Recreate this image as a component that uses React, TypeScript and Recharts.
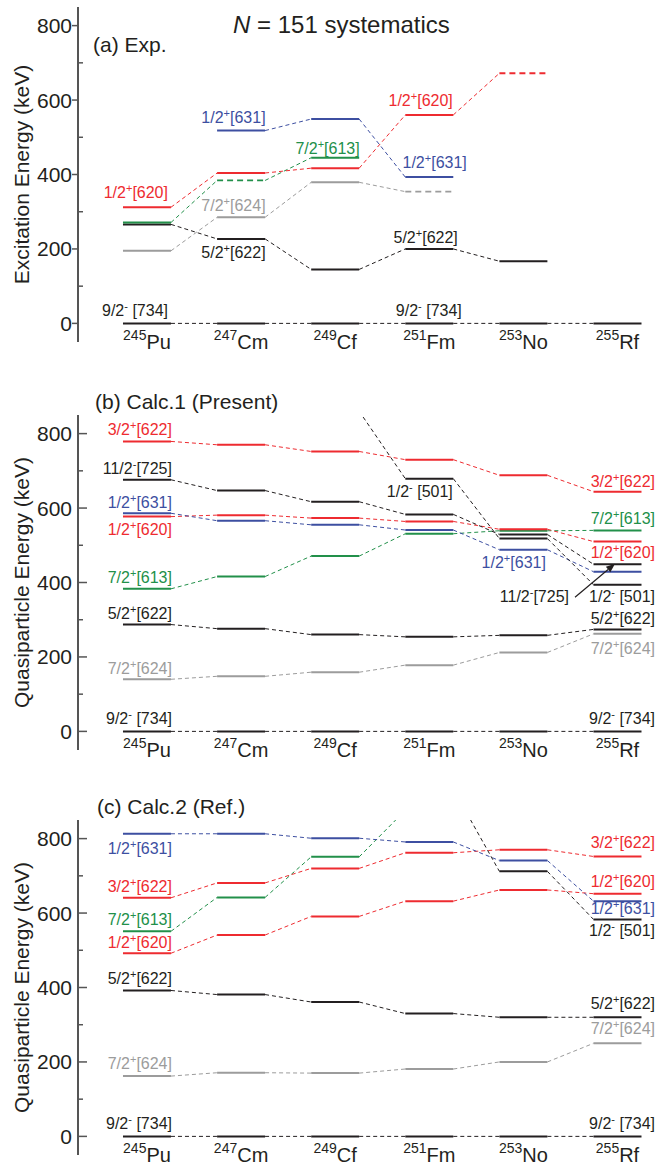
import React from 'react'
import { ComposedChart, Line, Scatter, XAxis, YAxis } from 'recharts'

// nuclei along the x axis
const nucleusMass = ['245', '247', '249', '251', '253', '255']
const nucleusName = ['Pu', 'Cm', 'Cf', 'Fm', 'No', 'Rf']
const nucleusTicks = [0, 1, 2, 3, 4, 5]
const energyTicks = [0, 100, 200, 300, 400, 500, 600, 700, 800]

// (a) Exp. — excitation energies (keV), null = not observed
const expGs734 = [0, 0, 0, 0, 0, 0]
const exp622 = [266, 227, 145, 200, 167, null]
const exp624 = [195, 285, 379, 354, null, null]
const exp613 = [271, 384, 445, null, null, null]
const exp620 = [312, 404, 417, 560, 672, null]
const exp631 = [null, 518, 549, 393, null, null]
// tentative levels (drawn dashed)
const exp624Tentative = [3]
const exp613Tentative = [1]
const exp620Tentative = [4]

// (b) Calc.1 (Present) — quasiparticle energies (keV)
const c1Gs734 = [0, 0, 0, 0, 0, 0]
const c1_624 = [140, 148, 159, 178, 212, 262]
const c1_622 = [287, 276, 260, 254, 258, 274]
const c1_613 = [383, 416, 471, 531, 539, 540]
const c1_620 = [577, 581, 573, 564, 543, 510]
const c1_631 = [586, 566, 555, 541, 488, 429]
const c1_725 = [676, 647, 617, 583, 529, 449]
const c1_3_622 = [779, 770, 752, 730, 688, 644]
const c1_501 = [null, null, 860, 679, 518, 394]

// (c) Calc.2 (Ref.) — quasiparticle energies (keV)
const c2Gs734 = [0, 0, 0, 0, 0, 0]
const c2_624 = [162, 171, 170, 181, 200, 250]
const c2_622 = [392, 381, 361, 330, 320, 320]
const c2_620 = [492, 541, 591, 632, 662, 652]
const c2_613 = [551, 642, 751, 876, null, null]
const c2_3_622 = [641, 681, 720, 762, 770, 752]
const c2_631 = [813, 813, 801, 791, 741, 632]
const c2_501 = [null, null, null, 933, 712, 583]

const RED = '#ee2b30'
const BLUE = '#3d4fa1'
const GREEN = '#22904a'
const GRAY = '#9c9c9c'
const BLACK = '#231f20'
const FONT = "'Liberation Sans', Arial, Helvetica, sans-serif"

const W = 659
const AXIS_X = 78
const PLOT_H = 335
const XAXIS_H = 14
const HALF = 0.255
const X_DOMAIN = [-0.733, 5.441]
const Y_DOMAIN = [-50, 850]

type Level = { key: string; values: (number | null)[]; color: string; tentative?: number[] }
type LabelDef = { level: string; at: number; name: string; dx: number; dy: number; arrow?: boolean }

const expLevels: Level[] = [
  { key: 'gs', values: expGs734, color: BLACK },
  { key: '624', values: exp624, color: GRAY, tentative: exp624Tentative },
  { key: '622', values: exp622, color: BLACK },
  { key: '613', values: exp613, color: GREEN, tentative: exp613Tentative },
  { key: '620', values: exp620, color: RED, tentative: exp620Tentative },
  { key: '631', values: exp631, color: BLUE },
]

const expLabels: LabelDef[] = [
  { level: '620', at: 0, name: '1/2+[620]', dx: 21, dy: -9 },
  { level: 'gs', at: 0, name: '9/2- [734]', dx: 21, dy: -7 },
  { level: '631', at: 1, name: '1/2+[631]', dx: 24.5, dy: -8 },
  { level: '624', at: 1, name: '7/2+[624]', dx: 24.5, dy: -6 },
  { level: '622', at: 1, name: '5/2+[622]', dx: 24.5, dy: 19 },
  { level: '613', at: 2, name: '7/2+[613]', dx: 24.5, dy: -4 },
  { level: '620', at: 3, name: '1/2+[620]', dx: 23.5, dy: -9 },
  { level: '631', at: 3, name: '1/2+[631]', dx: 37.5, dy: -9 },
  { level: '622', at: 3, name: '5/2+[622]', dx: 28.5, dy: -6 },
  { level: 'gs', at: 3, name: '9/2- [734]', dx: 32.5, dy: -7 },
]

const c1Levels: Level[] = [
  { key: 'gs', values: c1Gs734, color: BLACK },
  { key: '624', values: c1_624, color: GRAY },
  { key: '622', values: c1_622, color: BLACK },
  { key: '613', values: c1_613, color: GREEN },
  { key: '620', values: c1_620, color: RED },
  { key: '631', values: c1_631, color: BLUE },
  { key: '725', values: c1_725, color: BLACK },
  { key: '3_622', values: c1_3_622, color: RED },
  { key: '501', values: c1_501, color: BLACK },
]

const c1Labels: LabelDef[] = [
  { level: '3_622', at: 0, name: '3/2+[622]', dx: 25, dy: -6 },
  { level: '725', at: 0, name: '11/2-[725]', dx: 25, dy: -6 },
  { level: '631', at: 0, name: '1/2+[631]', dx: 25, dy: -5 },
  { level: '620', at: 0, name: '1/2+[620]', dx: 25, dy: 18 },
  { level: '613', at: 0, name: '7/2+[613]', dx: 25, dy: -6 },
  { level: '622', at: 0, name: '5/2+[622]', dx: 25, dy: -6 },
  { level: '624', at: 0, name: '7/2+[624]', dx: 25, dy: -5 },
  { level: 'gs', at: 0, name: '9/2- [734]', dx: 25, dy: -7 },
  { level: '501', at: 3, name: '1/2- [501]', dx: 23.5, dy: 18 },
  { level: '631', at: 4, name: '1/2+[631]', dx: 22.5, dy: 18 },
  { level: '3_622', at: 5, name: '3/2+[622]', dx: 37.5, dy: -5 },
  { level: '613', at: 5, name: '7/2+[613]', dx: 37.5, dy: -6 },
  { level: '620', at: 5, name: '1/2+[620]', dx: 37.5, dy: 16 },
  { level: '725', at: 5, name: '11/2-[725]', dx: -48.5, dy: 38, arrow: true },
  { level: '501', at: 5, name: '1/2- [501]', dx: 37.5, dy: 17 },
  { level: '622', at: 5, name: '5/2+[622]', dx: 37.5, dy: -5 },
  { level: '624', at: 5, name: '7/2+[624]', dx: 37.5, dy: 20 },
  { level: 'gs', at: 5, name: '9/2- [734]', dx: 37.5, dy: -7 },
]

const c2Levels: Level[] = [
  { key: 'gs', values: c2Gs734, color: BLACK },
  { key: '624', values: c2_624, color: GRAY },
  { key: '622', values: c2_622, color: BLACK },
  { key: '620', values: c2_620, color: RED },
  { key: '613', values: c2_613, color: GREEN },
  { key: '3_622', values: c2_3_622, color: RED },
  { key: '631', values: c2_631, color: BLUE },
  { key: '501', values: c2_501, color: BLACK },
]

const c2Labels: LabelDef[] = [
  { level: '631', at: 0, name: '1/2+[631]', dx: 25, dy: 20 },
  { level: '3_622', at: 0, name: '3/2+[622]', dx: 25, dy: -6 },
  { level: '613', at: 0, name: '7/2+[613]', dx: 25, dy: -6 },
  { level: '620', at: 0, name: '1/2+[620]', dx: 25, dy: -5 },
  { level: '622', at: 0, name: '5/2+[622]', dx: 25, dy: -6 },
  { level: '624', at: 0, name: '7/2+[624]', dx: 25, dy: -7 },
  { level: 'gs', at: 0, name: '9/2- [734]', dx: 25, dy: -7 },
  { level: '3_622', at: 5, name: '3/2+[622]', dx: 37.5, dy: -8 },
  { level: '620', at: 5, name: '1/2+[620]', dx: 37.5, dy: -7 },
  { level: '631', at: 5, name: '1/2+[631]', dx: 37.5, dy: 13 },
  { level: '501', at: 5, name: '1/2- [501]', dx: 37.5, dy: 17 },
  { level: '622', at: 5, name: '5/2+[622]', dx: 37.5, dy: -8 },
  { level: '624', at: 5, name: '7/2+[624]', dx: 37.5, dy: -9 },
  { level: 'gs', at: 5, name: '9/2- [734]', dx: 37.5, dy: -7 },
]

function segmentData(values: (number | null)[], tentative: number[] = [], wantTentative: boolean) {
  const out: { x: number; y: number | null }[] = []
  values.forEach((v, i) => {
    if (v == null) return
    if (tentative.includes(i) !== wantTentative) return
    out.push({ x: i - HALF, y: v }, { x: i + HALF, y: v }, { x: i + HALF, y: null })
  })
  return out
}

function linkData(values: (number | null)[]) {
  const out: { x: number; y: number | null }[] = []
  for (let i = 0; i < values.length - 1; i++) {
    const a = values[i]
    const b = values[i + 1]
    if (a == null || b == null) continue
    out.push({ x: i + HALF, y: a }, { x: i + 1 - HALF, y: b }, { x: i + 1 - HALF, y: null })
  }
  return out
}

function LevelLabel(props: any) {
  const { cx, cy, payload } = props
  if (cx == null || cy == null || !payload) return <g />
  const m = /^(\d+\/2)([+-])(.*)$/.exec(payload.name)
  const spin = m ? m[1] : payload.name
  const parity = m ? m[2] : ''
  const rest = m ? m[3] : ''
  const tx = cx + payload.dx
  const ty = cy + payload.dy
  let arrow = null
  if (payload.arrow) {
    const x1 = cx - 42.5
    const y1 = cy + 33
    const x2 = cx - 2.5
    const y2 = cy - 0.5
    const ang = Math.atan2(y2 - y1, x2 - x1)
    const L = 9
    const Wd = 3.5
    const bx = x2 - L * Math.cos(ang)
    const by = y2 - L * Math.sin(ang)
    const px = -Math.sin(ang) * Wd
    const py = Math.cos(ang) * Wd
    arrow = (
      <g>
        <line x1={x1} y1={y1} x2={bx} y2={by} stroke={BLACK} strokeWidth={1.2} />
        <polygon points={`${x2},${y2} ${bx + px},${by + py} ${bx - px},${by - py}`} fill={BLACK} />
      </g>
    )
  }
  return (
    <g>
      <text x={tx} y={ty} textAnchor="end" fontSize={16} fill={payload.color} fontFamily={FONT}>
        {spin}
        <tspan fontSize={11} dy={-6}>{parity}</tspan>
        <tspan dy={6}>{rest}</tspan>
      </text>
      {arrow}
    </g>
  )
}

function Panel({ top, marginTop, height, levels, labels, yLabel, majorOut }: {
  top: number; marginTop: number; height: number; levels: Level[]; labels: LabelDef[]; yLabel: string; majorOut: boolean
}) {
  const bottom = height - marginTop - PLOT_H - XAXIS_H
  const baseY = marginTop + PLOT_H + 7
  const labelPoints = labels.map((l) => {
    const lv = levels.find((k) => k.key === l.level)!
    return { x: l.at, y: lv.values[l.at], name: l.name, color: lv.color, dx: l.dx, dy: l.dy, arrow: l.arrow }
  })

  const nucleusTick = (p: any) => {
    const i = p.payload.value
    return (
      <text x={p.x} y={baseY} textAnchor="middle" fill={BLACK} fontFamily={FONT}>
        <tspan fontSize={14} dy={-9}>{nucleusMass[i]}</tspan>
        <tspan fontSize={20} dy={9}>{nucleusName[i]}</tspan>
      </text>
    )
  }

  const energyTick = (p: any) => {
    const v = p.payload.value
    const y = p.y
    if (v % 200 !== 0) {
      return <line x1={AXIS_X} x2={AXIS_X + 5} y1={y} y2={y} stroke="#555" strokeWidth={1.5} />
    }
    return (
      <g>
        <line x1={majorOut ? AXIS_X - 6 : AXIS_X} x2={majorOut ? AXIS_X : AXIS_X + 9} y1={y} y2={y} stroke="#555" strokeWidth={1.5} />
        <text x={AXIS_X - 6} y={y} dy={7.5} textAnchor="end" fontSize={21} fill={BLACK} fontFamily={FONT}>
          {v}
        </text>
      </g>
    )
  }

  return (
    <div style={{ position: 'absolute', left: 0, top }}>
      <ComposedChart width={W} height={height} margin={{ top: marginTop, right: 0, bottom, left: 0 }}>
        <XAxis
          dataKey="x"
          type="number"
          domain={X_DOMAIN}
          allowDataOverflow
          ticks={nucleusTicks}
          interval={0}
          axisLine={false}
          tickLine={false}
          height={XAXIS_H}
          tick={nucleusTick}
        />
        <YAxis
          dataKey="y"
          type="number"
          domain={Y_DOMAIN}
          allowDataOverflow
          ticks={energyTicks}
          interval={0}
          width={AXIS_X}
          axisLine={{ stroke: '#555', strokeWidth: 2 }}
          tickLine={false}
          tick={energyTick}
          label={{
            value: yLabel,
            angle: -90,
            position: 'insideLeft',
            offset: 22,
            style: { textAnchor: 'middle', fontSize: 21, fill: BLACK, fontFamily: FONT },
          }}
        />
        {levels.map((lv) => (
          <Line
            key={`link-${lv.key}`}
            data={linkData(lv.values)}
            dataKey="y"
            stroke={lv.color}
            strokeWidth={1}
            strokeDasharray="4 3"
            dot={false}
            activeDot={false}
            isAnimationActive={false}
          />
        ))}
        {levels.map((lv) => (
          <Line
            key={`lvl-${lv.key}`}
            data={segmentData(lv.values, lv.tentative, false)}
            dataKey="y"
            stroke={lv.color}
            strokeWidth={2}
            dot={false}
            activeDot={false}
            isAnimationActive={false}
          />
        ))}
        {levels
          .filter((lv) => lv.tentative && lv.tentative.length)
          .map((lv) => (
            <Line
              key={`tent-${lv.key}`}
              data={segmentData(lv.values, lv.tentative, true)}
              dataKey="y"
              stroke={lv.color}
              strokeWidth={1.8}
              strokeDasharray="6 4"
              dot={false}
              activeDot={false}
              isAnimationActive={false}
            />
          ))}
        <Scatter data={labelPoints} dataKey="y" shape={LevelLabel} isAnimationActive={false} />
      </ComposedChart>
    </div>
  )
}

export default function App() {
  return (
    <div style={{ position: 'absolute', left: 0, top: 0, width: W, height: 1169, background: '#fff', overflow: 'hidden' }}>
      <Panel top={0} marginTop={7} height={400} levels={expLevels} labels={expLabels} yLabel="Excitation Energy (keV)" majorOut />
      <Panel top={370} marginTop={45} height={400} levels={c1Levels} labels={c1Labels} yLabel="Quasiparticle Energy (keV)" majorOut={false} />
      <Panel top={775} marginTop={45} height={394} levels={c2Levels} labels={c2Labels} yLabel="Quasiparticle Energy (keV)" majorOut={false} />
      <svg width={W} height={1169} style={{ position: 'absolute', left: 0, top: 0, pointerEvents: 'none' }}>
        <text x={233} y={33} fontSize={24} fill={BLACK} fontFamily={FONT}>
          <tspan fontStyle="italic">N</tspan> = 151 systematics
        </text>
        <text x={93} y={52} fontSize={21} fill={BLACK} fontFamily={FONT}>(a) Exp.</text>
        <text x={95} y={409} fontSize={21} fill={BLACK} fontFamily={FONT}>(b) Calc.1 (Present)</text>
        <text x={97} y={814} fontSize={21} fill={BLACK} fontFamily={FONT}>(c) Calc.2 (Ref.)</text>
      </svg>
    </div>
  )
}
